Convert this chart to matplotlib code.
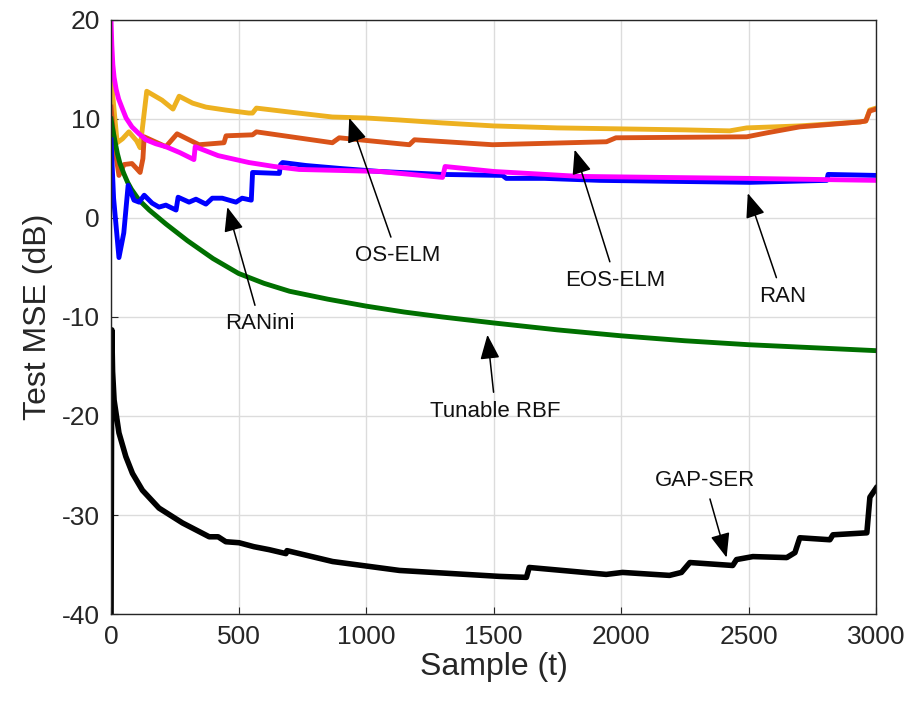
import matplotlib.pyplot as plt

plt.rcParams["font.family"] = ["Liberation Sans", "DejaVu Sans"]
plt.rcParams["axes.unicode_minus"] = False

# OS-ELM (yellow)
os_elm_x = [0, 8, 24, 45, 70, 100, 114, 140, 200, 243, 267, 320, 372, 450, 540, 555, 570,
            700, 868, 1000, 1130, 1300, 1500, 1750, 2000, 2250, 2426, 2493, 2700, 2937,
            2960, 2975, 3000]
os_elm_y = [14.4, 12.0, 7.6, 8.0, 8.7, 7.8, 7.1, 12.8, 11.9, 11.0, 12.3, 11.6, 11.2, 10.9,
            10.6, 10.6, 11.1, 10.7, 10.2, 10.1, 9.9, 9.6, 9.3, 9.1, 9.0, 8.9, 8.8, 9.1, 9.3,
            9.7, 9.8, 10.9, 11.1]

# EOS-ELM (orange)
eos_elm_x = [0, 15, 31, 51, 82, 100, 114, 125, 130, 215, 259, 345, 443, 451, 555, 570, 868,
             895, 1052, 1170, 1190, 1496, 1943, 1980, 2493, 2572, 2700, 2937, 2960, 2975, 3000]
eos_elm_y = [11.2, 7.0, 4.3, 5.4, 5.5, 5.0, 4.6, 6.0, 8.2, 7.2, 8.5, 7.4, 7.6, 8.3, 8.4, 8.7,
             7.6, 8.1, 7.7, 7.4, 7.9, 7.4, 7.7, 8.1, 8.2, 8.6, 9.2, 9.7, 9.8, 10.8, 11.0]

# Tunable RBF (green)
rbf_x = [0, 5, 10, 18, 25, 35, 50, 65, 80, 110, 150, 215, 300, 400, 500, 600, 700, 850, 1000,
         1150, 1300, 1500, 1750, 2000, 2250, 2500, 2750, 3000]
rbf_y = [10.0, 9.2, 8.5, 7.4, 6.5, 5.5, 4.5, 3.6, 2.9, 1.8, 0.8, -0.6, -2.3, -4.1, -5.6,
         -6.6, -7.4, -8.2, -8.9, -9.5, -10.0, -10.6, -11.3, -11.9, -12.4, -12.8, -13.1, -13.4]

# RANini (blue)
ranini_x = [0, 10, 31, 50, 67, 90, 110, 130, 161, 188, 215, 255, 263, 306, 333, 372, 397,
            436, 490, 514, 550, 555, 660, 665, 673, 765, 900, 1052, 1300, 1535, 1550, 1700,
            1916, 2200, 2505, 2807, 2812, 3000]
ranini_y = [7.9, 2.0, -4.0, -1.5, 3.3, 1.8, 1.6, 2.3, 1.5, 1.1, 1.3, 0.8, 2.1, 1.6, 1.9, 1.4,
            2.0, 2.0, 1.6, 2.0, 1.8, 4.6, 4.5, 5.4, 5.6, 5.3, 5.0, 4.7, 4.4, 4.3, 4.0, 4.0,
            3.8, 3.7, 3.6, 3.8, 4.4, 4.3]

# RAN (magenta)
ran_x = [0, 3, 7, 12, 20, 30, 45, 59, 82, 110, 137, 175, 215, 270, 325, 330, 420, 541, 640,
         738, 900, 1052, 1300, 1310, 1500, 1837, 2150, 2493, 3000]
ran_y = [20.0, 17.5, 15.5, 14.2, 13.0, 12.0, 11.0, 10.1, 9.2, 8.5, 7.9, 7.5, 7.2, 6.6, 5.9,
         7.2, 6.3, 5.6, 5.2, 4.9, 4.8, 4.7, 4.1, 5.2, 4.7, 4.2, 4.1, 4.0, 3.8]

# GAP-SER (black)
gap_x = [0, 3, 6, 12, 31, 58, 84, 123, 188, 280, 385, 420, 450, 502, 560, 620, 686, 690, 869,
         1131, 1523, 1629, 1640, 1942, 2006, 2190, 2237, 2270, 2438, 2453, 2517, 2650, 2682,
         2701, 2819, 2831, 2964, 2976, 3000]
gap_y = [-40.0, -11.3, -15.5, -18.4, -21.7, -24.1, -25.8, -27.5, -29.3, -30.8, -32.2, -32.2,
         -32.7, -32.8, -33.2, -33.5, -33.9, -33.6, -34.7, -35.6, -36.2, -36.3, -35.3, -36.0,
         -35.8, -36.1, -35.8, -34.8, -35.1, -34.5, -34.2, -34.3, -33.8, -32.3, -32.5, -32.0,
         -31.8, -28.2, -27.3]

labels = ["OS-ELM", "EOS-ELM", "RAN", "RANini", "Tunable RBF", "GAP-SER"]
label_pos = [(1123, -3.8), (1979, -6.3), (2634, -7.9), (585, -10.7), (1508, -19.5), (2328, -26.5)]
arrow_tip = [(934, 10.1), (1818, 6.9), (2497, 2.5), (456, 1.1), (1476, -11.8), (2414, -34.3)]


def main():
    fig = plt.figure(figsize=(9.2, 7.01), dpi=100)
    ax = fig.add_axes([0.1207, 0.1241, 0.8315, 0.8474])

    ax.plot(os_elm_x, os_elm_y, color="#EDB120", lw=3.5)
    ax.plot(eos_elm_x, eos_elm_y, color="#D95319", lw=3.5)
    ax.plot(rbf_x, rbf_y, color="#007000", lw=3.5)
    ax.plot(ranini_x, ranini_y, color="#0000FF", lw=3.5)
    ax.plot(ran_x, ran_y, color="#FF00FF", lw=3.5)
    ax.plot(gap_x, gap_y, color="black", lw=4)

    for text, xytext, xy in zip(labels, label_pos, arrow_tip):
        ax.annotate(text, xy=xy, xytext=xytext, ha="center", va="center",
                    fontsize=16, color="#111111",
                    arrowprops=dict(arrowstyle="-|>,head_length=0.75,head_width=0.3",
                                    mutation_scale=20, color="black", lw=1.1,
                                    shrinkA=4, shrinkB=0))

    ax.set_xlim(0, 3000)
    ax.set_ylim(-40, 20)
    ax.set_xticks(range(0, 3001, 500))
    ax.set_yticks(range(-40, 21, 10))
    ax.grid(True, color="#dcdcdc", lw=1)
    ax.set_axisbelow(True)
    ax.tick_params(direction="in", length=5, labelsize=19, colors="#262626", pad=8)
    for sp in ax.spines.values():
        sp.set_color("#262626")
        sp.set_linewidth(1)

    ax.set_xlabel("Sample (t)", fontsize=23, color="#262626", labelpad=2)
    ax.set_ylabel("Test MSE (dB)", fontsize=23, color="#262626", labelpad=6)

    fig.savefig("out.png", dpi=100)


if __name__ == "__main__":
    main()
